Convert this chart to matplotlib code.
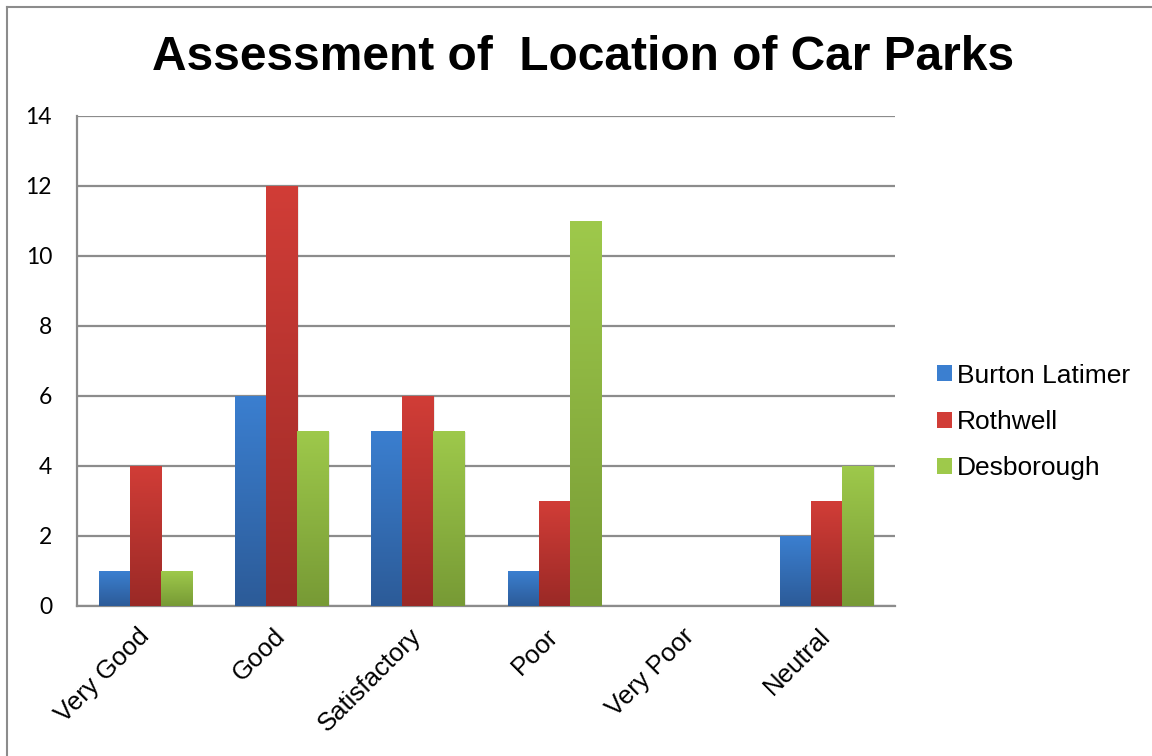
import numpy as np
import matplotlib
matplotlib.use("Agg")
import matplotlib.pyplot as plt
from matplotlib.colors import LinearSegmentedColormap
from matplotlib.patches import Patch
from matplotlib.lines import Line2D

# data
categories = ["Very Good", "Good", "Satisfactory", "Poor", "Very Poor", "Neutral"]
series_names = ["Burton Latimer", "Rothwell", "Desborough"]
burton = [1, 6, 5, 1, 0, 2]
rothwell = [4, 12, 6, 3, 0, 3]
desborough = [1, 5, 5, 11, 0, 4]

# top / bottom colours of the Excel-style gradient
grad_colors = [("#3b7fd0", "#2c5b98"), ("#d13d37", "#9a2926"), ("#9ec94b", "#779a35")]

plt.rcParams["font.family"] = ["Liberation Sans", "DejaVu Sans"]

fig = plt.figure(figsize=(11.52, 7.56), dpi=100)
ax = fig.add_axes([77 / 1152, 1 - 606 / 756, (895 - 77) / 1152, (606 - 116) / 756])

x = np.arange(len(categories))
width = 0.228
values = [burton, rothwell, desborough]

ax.set_xlim(-0.5, len(categories) - 0.5)
ax.set_ylim(0, 14)

for i, (vals, (ctop, cbot)) in enumerate(zip(values, grad_colors)):
    cmap = LinearSegmentedColormap.from_list("g%d" % i, [cbot, ctop])
    bars = ax.bar(x + (i - 1) * width, vals, width, color=ctop, zorder=3, linewidth=0)
    for b in bars:
        h = b.get_height()
        if h <= 0:
            continue
        # soft shadow to the right / below
        ax.bar(b.get_x() + b.get_width() / 2 + 0.012, h, b.get_width(),
               bottom=-0.04, color="#000000", alpha=0.08, zorder=2, linewidth=0)
        grad = np.linspace(0, 1, 256).reshape(-1, 1)
        im = ax.imshow(grad, cmap=cmap, origin="lower", aspect="auto", zorder=4,
                       extent=[b.get_x(), b.get_x() + b.get_width(), 0, h])
        im.set_clip_path(b)

ax.set_xlim(-0.5, len(categories) - 0.5)
ax.set_ylim(0, 14)

ax.set_yticks(range(0, 15, 2))
ax.yaxis.grid(True, color="#8c8c8c", linewidth=1.6, zorder=1)
ax.set_axisbelow(True)
for s in ["top", "right"]:
    ax.spines[s].set_visible(False)
for s in ["left", "bottom"]:
    ax.spines[s].set_color("#8c8c8c")
    ax.spines[s].set_linewidth(1.6)
ax.tick_params(axis="y", length=0, labelsize=16.5, pad=18)
ax.tick_params(axis="x", length=0, labelsize=18.5, pad=19)
for lab in ax.get_yticklabels():
    lab.set_fontfamily(["Lato", "DejaVu Sans"])
ax.set_xticks(x)
ax.set_xticklabels(categories, rotation=45, ha="right", va="center", rotation_mode="anchor")

fig.text(583 / 1152, 1 - 58 / 756, "Assessment of  Location of Car Parks",
         ha="center", va="center", fontsize=34.5, fontweight="bold")

handles = [Patch(facecolor=c[0], edgecolor="none") for c in grad_colors]
fig.legend(handles, series_names, loc="center left", bbox_to_anchor=(937 / 1152, 1 - 422 / 756),
           frameon=False, fontsize=19, handlelength=0.57, handleheight=0.57,
           handletextpad=0.2, labelspacing=0.85, borderpad=0, borderaxespad=0)

# chart-area border (left and top edges visible)
fig.add_artist(Line2D([7 / 1152, 7 / 1152], [0, 1 - 7 / 756], color="#8c8c8c", linewidth=1.5))
fig.add_artist(Line2D([7 / 1152, 1], [1 - 7 / 756, 1 - 7 / 756], color="#8c8c8c", linewidth=1.5))

fig.savefig("out.png", dpi=100)
